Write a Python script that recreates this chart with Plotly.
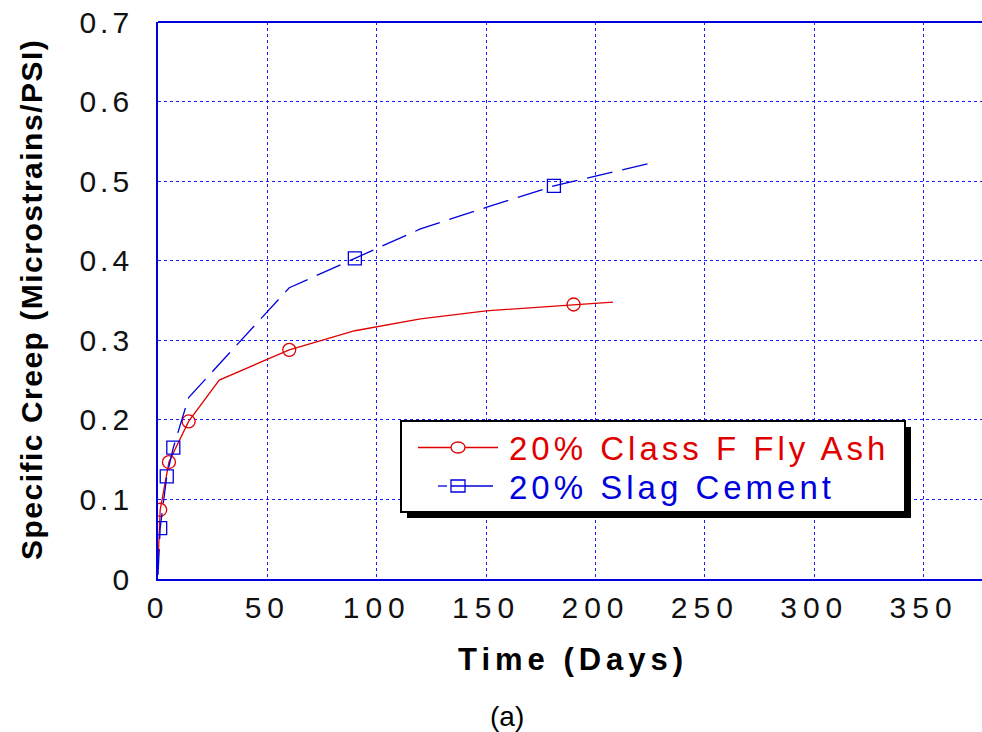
import plotly.graph_objects as go

# Specific creep vs. time for two cement blends
fa_days = [0, 1, 5, 14, 28, 60, 90, 120, 150, 190, 208]
fa_creep = [0.02, 0.087, 0.147, 0.198, 0.25, 0.288, 0.312, 0.327, 0.337, 0.345, 0.348]
fa_marked_days = [1, 5, 14, 60, 190]

slag_days = [0, 1, 4, 7, 14, 28, 60, 90, 120, 150, 181, 226]
slag_creep = [0.005, 0.064, 0.129, 0.165, 0.228, 0.27, 0.366, 0.403, 0.44, 0.467, 0.494, 0.523]
slag_marked_days = [1, 4, 7, 90, 181]

x_ticks = [0, 50, 100, 150, 200, 250, 300, 350]
y_ticks = [0, 0.1, 0.2, 0.3, 0.4, 0.5, 0.6, 0.7]
y_tick_text = ["0", "0.1", "0.2", "0.3", "0.4", "0.5", "0.6", "0.7"]

series_names = ["20% Class F Fly Ash", "20% Slag Cement"]
x_title = "Time (Days)"
y_title = "Specific Creep (Microstrains/PSI)"
caption = "(a)"

RED = "#e00000"
BLUE = "#0000dd"
GRID = "#1a1aff"
FONT = "Liberation Sans, Arial, sans-serif"

# plot-area geometry in pixels
FIG_W, FIG_H = 982, 732
L, T, R, B = 158, 22, 982, 579
W, H = R - L, B - T


def px(xp):
    return (xp - L) / W


def py(yp):
    return (B - yp) / H


def spaced(s, sp):
    return f'<span style="letter-spacing:{sp}px">{s}</span>'


def pick(days, vals, keep):
    pairs = [(d, v) for d, v in zip(days, vals) if d in keep]
    return [p[0] for p in pairs], [p[1] for p in pairs]


fig = go.Figure()

fig.add_trace(go.Scatter(x=fa_days, y=fa_creep, mode="lines",
                         line=dict(color=RED, width=1.3), showlegend=False,
                         name=series_names[0]))
mx, my = pick(fa_days, fa_creep, fa_marked_days)
fig.add_trace(go.Scatter(x=mx, y=my, mode="markers", showlegend=False,
                         marker=dict(symbol="circle-open", size=13,
                                     color=RED, line=dict(width=1.3)),
                         name=series_names[0]))

fig.add_trace(go.Scatter(x=slag_days, y=slag_creep, mode="lines",
                         line=dict(color=BLUE, width=1.3, dash="26px,10px"),
                         showlegend=False, name=series_names[1]))
mx, my = pick(slag_days, slag_creep, slag_marked_days)
fig.add_trace(go.Scatter(x=mx, y=my, mode="markers", showlegend=False,
                         marker=dict(symbol="square-open", size=13,
                                     color=BLUE, line=dict(width=1.3)),
                         name=series_names[1]))

x_range = [0, (R - L) / (765.6 / 350)]

fig.update_xaxes(range=x_range, tickvals=x_ticks,
                 ticktext=[spaced(str(v), 6) for v in x_ticks],
                 tickfont=dict(family=FONT, size=30, color="#111"),
                 showgrid=True, gridcolor=GRID, gridwidth=1, griddash="3px,3px",
                 showline=True, linecolor=BLUE, linewidth=1.8, mirror=False,
                 ticks="", zeroline=False, ticklabelstandoff=1)
fig.update_yaxes(range=[0, 0.7], tickvals=y_ticks,
                 ticktext=[spaced(t, 4) for t in y_tick_text],
                 tickfont=dict(family=FONT, size=30, color="#111"),
                 showgrid=True, gridcolor=GRID, gridwidth=1, griddash="3px,3px",
                 showline=True, linecolor=BLUE, linewidth=1.8, mirror=False,
                 ticks="", zeroline=False, ticklabelstandoff=17)

annotations = [
    dict(text="<b>" + spaced(x_title, 5) + "</b>", x=px(573), y=py(659),
         font=dict(family=FONT, size=31, color="#000")),
    dict(text="<b>" + spaced(y_title, 1.5) + "</b>", x=px(31), y=py(300),
         textangle=-90, font=dict(family=FONT, size=30, color="#000")),
    dict(text=caption, x=px(507), y=py(716),
         font=dict(family=FONT, size=28, color="#000")),
    dict(text=spaced(series_names[0], 4), x=px(507), y=py(448),
         xanchor="left", font=dict(family=FONT, size=33, color=RED)),
    dict(text=spaced(series_names[1], 4), x=px(507), y=py(487),
         xanchor="left", font=dict(family=FONT, size=33, color=BLUE)),
]
for a in annotations:
    a.setdefault("xanchor", "center")
    a.update(xref="paper", yref="paper", yanchor="middle", showarrow=False)

shapes = [
    # top frame edge
    dict(type="line", x0=0, x1=1, y0=1, y1=1, line=dict(color=BLUE, width=1.8)),
    # legend box with drop shadow
    dict(type="rect", x0=px(407), x1=px(911), y0=py(427), y1=py(518),
         fillcolor="#000", line=dict(width=0)),
    dict(type="rect", x0=px(401), x1=px(905), y0=py(421), y1=py(512),
         fillcolor="#fff", line=dict(color="#000", width=2)),
    # legend symbols
    dict(type="line", x0=px(418), x1=px(498), y0=py(447.5), y1=py(447.5),
         line=dict(color=RED, width=1.3)),
    dict(type="circle", x0=px(451), x1=px(465), y0=py(442), y1=py(453),
         fillcolor="#fff", line=dict(color=RED, width=1.3)),
    dict(type="line", x0=px(438), x1=px(447), y0=py(486), y1=py(486),
         line=dict(color=BLUE, width=1.3)),
    dict(type="line", x0=px(451), x1=px(493), y0=py(486), y1=py(486),
         line=dict(color=BLUE, width=1.3)),
    dict(type="rect", x0=px(451), x1=px(465), y0=py(480), y1=py(492),
         line=dict(color=BLUE, width=1.3)),
]
for s in shapes:
    s.update(xref="paper", yref="paper", layer="above")

fig.update_layout(width=FIG_W, height=FIG_H,
                  margin=dict(l=L, r=FIG_W - R, t=T, b=FIG_H - B),
                  paper_bgcolor="#fff", plot_bgcolor="#fff",
                  annotations=annotations, shapes=shapes, showlegend=False)

fig.write_html("out.html")
